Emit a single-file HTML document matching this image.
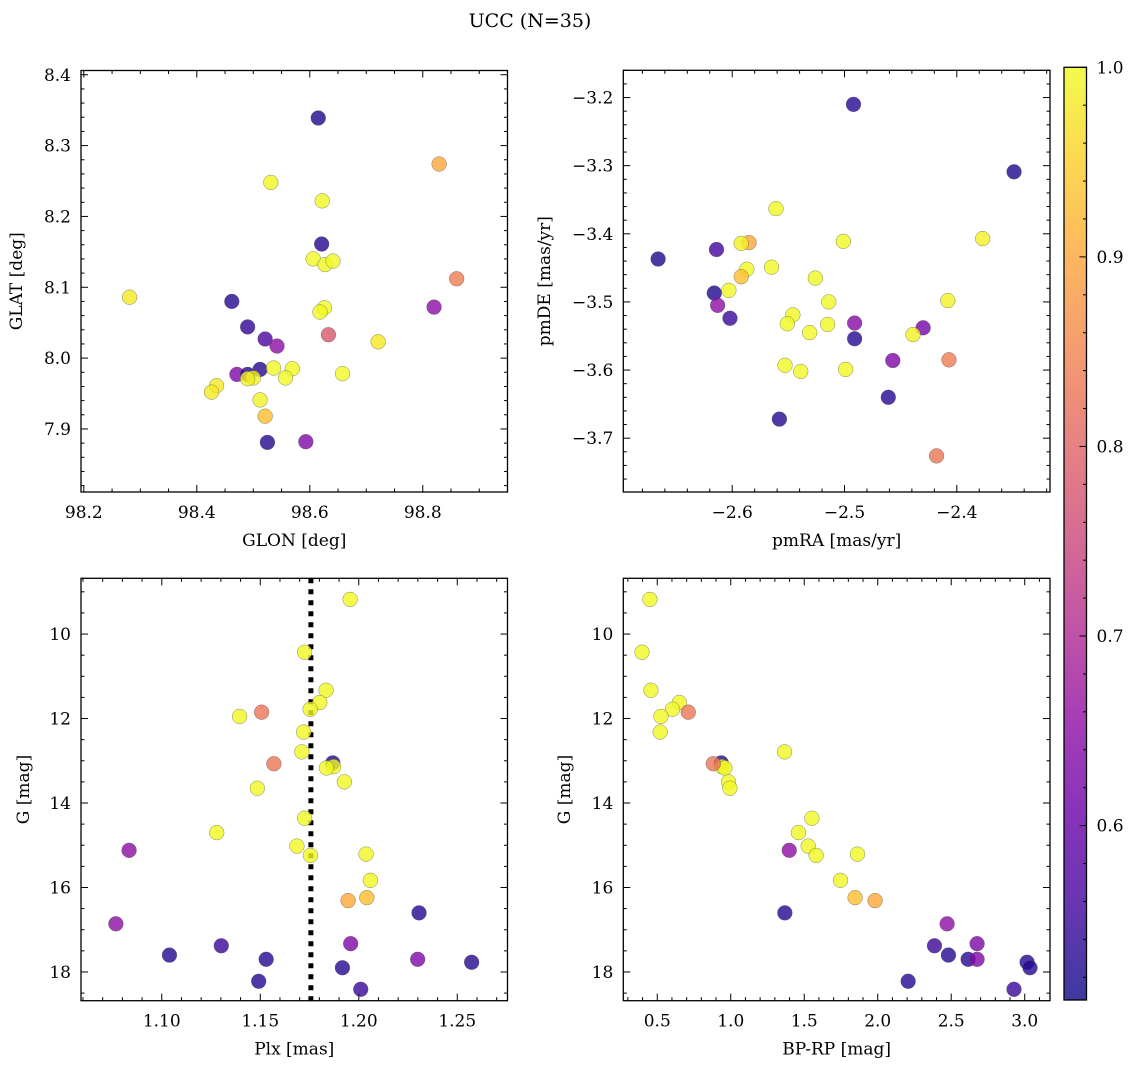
<!DOCTYPE html>
<html><head><meta charset="utf-8"><style>
html,body{margin:0;padding:0;background:#fff;}
svg{display:block;font-family:"DejaVu Serif","Liberation Serif",serif;}
</style></head><body>
<svg id="fig" width="1136" height="1067" viewBox="0 0 1136 1067">
<defs>
<linearGradient id="plasma" x1="0" y1="1" x2="0" y2="0">
<stop offset="0" stop-color="#0d0887"/><stop offset="0.1" stop-color="#41049d"/><stop offset="0.2" stop-color="#6a00a8"/><stop offset="0.3" stop-color="#8f0da4"/><stop offset="0.4" stop-color="#b12a90"/><stop offset="0.5" stop-color="#cc4778"/><stop offset="0.6" stop-color="#e16462"/><stop offset="0.7" stop-color="#f2844b"/><stop offset="0.8" stop-color="#fca636"/><stop offset="0.9" stop-color="#fcce25"/><stop offset="1" stop-color="#f0f921"/>
</linearGradient>
</defs>
<text x="530" y="27" font-size="19" text-anchor="middle">UCC (N=35)</text>
</svg>
<script>
const glon = [98.615,98.829,98.531,98.622,98.621,98.606,98.627,98.641,98.860,98.281,98.462,98.820,98.626,98.618,98.490,98.633,98.721,98.521,98.542,98.512,98.536,98.569,98.658,98.471,98.490,98.500,98.490,98.557,98.435,98.426,98.512,98.521,98.525,98.593];
const glat = [8.339,8.274,8.248,8.222,8.161,8.140,8.132,8.137,8.112,8.086,8.080,8.072,8.071,8.065,8.044,8.033,8.023,8.027,8.017,7.984,7.986,7.985,7.978,7.977,7.977,7.972,7.971,7.972,7.961,7.952,7.941,7.918,7.881,7.882];
const prob1 = [0.52,0.9,1,1,0.53,1,1,1,0.84,0.98,0.53,0.65,1,1,0.54,0.78,0.98,0.57,0.65,0.53,1,1,1,0.63,0.53,0.99,0.99,1,0.98,0.98,0.99,0.93,0.53,0.63];
const pmra = [-2.492,-2.349,-2.561,-2.377,-2.501,-2.585,-2.592,-2.614,-2.666,-2.565,-2.587,-2.592,-2.526,-2.603,-2.616,-2.408,-2.514,-2.613,-2.602,-2.546,-2.551,-2.515,-2.491,-2.531,-2.430,-2.439,-2.491,-2.457,-2.407,-2.553,-2.539,-2.499,-2.461,-2.558,-2.418];
const pmde = [-3.210,-3.309,-3.363,-3.407,-3.411,-3.413,-3.414,-3.423,-3.437,-3.449,-3.452,-3.463,-3.465,-3.483,-3.487,-3.498,-3.500,-3.505,-3.524,-3.519,-3.532,-3.533,-3.531,-3.545,-3.538,-3.548,-3.554,-3.586,-3.585,-3.593,-3.602,-3.599,-3.640,-3.672,-3.726];
const prob2 = [0.53,0.52,1,0.99,1,0.9,0.99,0.56,0.52,1,1,0.93,1,1,0.52,0.99,1,0.65,0.55,1,1,1,0.64,1,0.62,0.99,0.53,0.63,0.84,1,1,1,0.53,0.53,0.83];
const plx = [1.1956,1.1725,1.1834,1.1802,1.1753,1.1507,1.1395,1.1720,1.1711,1.1868,1.1872,1.1836,1.1569,1.1927,1.1485,1.1725,1.1279,1.0834,1.1686,1.1755,1.2037,1.2059,1.2041,1.1946,1.2306,1.0767,1.1302,1.1959,1.1039,1.1530,1.2299,1.2573,1.1917,1.1492,1.2010];
const gmag = [9.18,10.43,11.33,11.62,11.78,11.85,11.95,12.32,12.79,13.05,13.14,13.17,13.07,13.50,13.65,14.36,14.70,15.12,15.02,15.24,15.21,15.83,16.24,16.31,16.60,16.86,17.38,17.33,17.60,17.70,17.70,17.77,17.90,18.22,18.41];
const bprp = [0.450,0.396,0.457,0.650,0.604,0.711,0.525,0.520,1.366,0.935,0.940,0.960,0.881,0.985,0.994,1.552,1.461,1.398,1.527,1.581,1.862,1.747,1.846,1.982,1.368,2.472,2.386,2.676,2.481,2.615,2.676,3.016,3.036,2.207,2.927];
const prob3 = [1,1,1,1,1,0.83,1,1,1,0.53,1,1,0.83,1,1,1,1,0.65,1,1,1,1,0.93,0.9,0.53,0.65,0.55,0.63,0.53,0.53,0.63,0.53,0.53,0.53,0.55];
const plxMedian = [1.1757];
const cbarTicks = [0.6,0.7,0.8,0.9,1.0];

const NS='http://www.w3.org/2000/svg';
const svg=document.getElementById('fig');
const VMIN=0.508, VMAX=1.0;
const stops=['#0d0887','#41049d','#6a00a8','#8f0da4','#b12a90','#cc4778','#e16462','#f2844b','#fca636','#fcce25','#f0f921'];
function hex(h){return [parseInt(h.substr(1,2),16),parseInt(h.substr(3,2),16),parseInt(h.substr(5,2),16)];}
function plasma(v){let t=(v-VMIN)/(VMAX-VMIN);t=Math.max(0,Math.min(1,t));const f=t*10,i=Math.min(9,Math.floor(f)),r=f-i;const a=hex(stops[i]),b=hex(stops[i+1]);return 'rgb('+a.map((c,k)=>Math.round(c+(b[k]-c)*r)).join(',')+')';}
function mk(tag,attrs,parent){const e=document.createElementNS(NS,tag);for(const k in attrs)e.setAttribute(k,attrs[k]);(parent||svg).appendChild(e);return e;}
function fmt(v,d){return v.toFixed(d).replace('-','\u2212');}
const FS=17;

function panel(c){
  const g=mk('g',{});
  
  
  const sx=v=>c.x0+(v-c.xd[0])/(c.xd[1]-c.xd[0])*(c.x1-c.x0);
  const sy=v=>c.y1-(v-c.yd[0])/(c.yd[1]-c.yd[0])*(c.y1-c.y0);
  const tg=mk('g',{stroke:'#000','stroke-width':1},g);
  const eps=1e-9;
  for(let v=Math.ceil(c.xd[0]/c.xmin-eps)*c.xmin; v<=c.xd[1]+eps; v+=c.xmin){
    const isMaj=Math.abs(v/c.xmaj-Math.round(v/c.xmaj))<1e-6;const L=isMaj?7:3.5;const x=sx(v);
    mk('line',{x1:x,x2:x,y1:c.y1,y2:c.y1-L},tg);mk('line',{x1:x,x2:x,y1:c.y0,y2:c.y0+L},tg);
    if(isMaj){const t=mk('text',{x:x,y:c.y1+26,'font-size':FS,'text-anchor':'middle',stroke:'none'},g);t.textContent=fmt(v,c.xdec);
      
      }
  }
  const ylo=Math.min(c.yd[0],c.yd[1]), yhi=Math.max(c.yd[0],c.yd[1]);
  for(let v=Math.ceil(ylo/c.ymin-eps)*c.ymin; v<=yhi+eps; v+=c.ymin){
    const isMaj=Math.abs(v/c.ymaj-Math.round(v/c.ymaj))<1e-6;const L=isMaj?7:3.5;const y=sy(v);
    mk('line',{x1:c.x0,x2:c.x0+L,y1:y,y2:y},tg);mk('line',{x1:c.x1,x2:c.x1-L,y1:y,y2:y},tg);
    if(isMaj){const t=mk('text',{x:c.x0-10,y:y+6,'font-size':FS,'text-anchor':'end',stroke:'none'},g);t.textContent=fmt(v,c.ydec);
      
      }
  }
  const xl=mk('text',{x:(c.x0+c.x1)/2,y:c.y1+54,'font-size':17,'text-anchor':'middle'},g);xl.textContent=c.xlabel;
  
  
  const yl=mk('text',{x:0,y:0,'font-size':17,'text-anchor':'middle',transform:'translate('+c.ylx+','+((c.y0+c.y1)/2)+') rotate(-90)'},g);yl.textContent=c.ylabel;
  
  
  if(c.vline){c.vline.forEach(v=>{const l=mk('line',{x1:sx(v),x2:sx(v),y1:c.y0,y2:c.y1,stroke:'#000','stroke-width':5,'stroke-dasharray':'5 6'},g);
    
    });}
  const pg=mk('g',{},g);
  for(let i=0;i<c.xs.length;i++){
    const p=mk('circle',{cx:sx(c.xs[i]),cy:sy(c.ys[i]),r:7.4,fill:plasma(c.cs[i]),'fill-opacity':0.8,stroke:'#555','stroke-width':0.5,'stroke-opacity':0.7},pg);
    
    
  }
  const fr=mk('rect',{x:c.x0,y:c.y0,width:c.x1-c.x0,height:c.y1-c.y0,fill:'none',stroke:'#000','stroke-width':1.3},g);
  
  
}
panel({name:'glon-glat-panel',x0:81,x1:507.5,y0:70.5,y1:492,xd:[98.195,98.95],yd:[7.811,8.406],xmaj:0.2,xmin:0.05,ymaj:0.1,ymin:0.02,xdec:1,ydec:1,xs:glon,ys:glat,cs:prob1,xlabel:'GLON [deg]',ylabel:'GLAT [deg]',ylx:22});
panel({name:'pm-panel',x0:623.3,x1:1050,y0:70.3,y1:492,xd:[-2.697,-2.317],yd:[-3.779,-3.160],xmaj:0.1,xmin:0.02,ymaj:0.1,ymin:0.02,xdec:1,ydec:1,xs:pmra,ys:pmde,cs:prob2,xlabel:'pmRA [mas/yr]',ylabel:'pmDE [mas/yr]',ylx:550});
panel({name:'plx-g-panel',x0:81,x1:507.5,y0:578.3,y1:1000.7,xd:[1.059,1.2755],yd:[18.68,8.68],xmaj:0.05,xmin:0.01,ymaj:2,ymin:0.5,xdec:2,ydec:0,xs:plx,ys:gmag,cs:prob3,xlabel:'Plx [mas]',ylabel:'G [mag]',ylx:29,vline:plxMedian});
panel({name:'cmd-panel',x0:623.3,x1:1050,y0:578.3,y1:1000.7,xd:[0.269,3.172],yd:[18.68,8.68],xmaj:0.5,xmin:0.1,ymaj:2,ymin:0.5,xdec:1,ydec:0,xs:bprp,ys:gmag,cs:prob3,xlabel:'BP-RP [mag]',ylabel:'G [mag]',ylx:570});
(function(){
  const x0=1064,x1=1086.5,y0=67.3,y1=1000;
  const g=mk('g',{});
  
  
  mk('rect',{x:x0,y:y0,width:x1-x0,height:y1-y0,fill:'url(#plasma)','fill-opacity':0.8},g);
  mk('rect',{x:x0,y:y0,width:x1-x0,height:y1-y0,fill:'none',stroke:'#000','stroke-width':1.3},g);
  const sy=v=>y1-(v-VMIN)/(VMAX-VMIN)*(y1-y0);
  for(let v=0.52;v<=1.0001;v+=0.02){const y=sy(v);const maj=Math.abs(v*10-Math.round(v*10))<1e-6;
    mk('line',{x1:x1,x2:x1-(maj?7:3.5),y1:y,y2:y,stroke:'#000','stroke-width':1},g);}
  cbarTicks.forEach(v=>{const t=mk('text',{x:x1+10,y:sy(v)+6,'font-size':FS},g);t.textContent=v.toFixed(1);
    
    });
})();
</script>
</body></html>
